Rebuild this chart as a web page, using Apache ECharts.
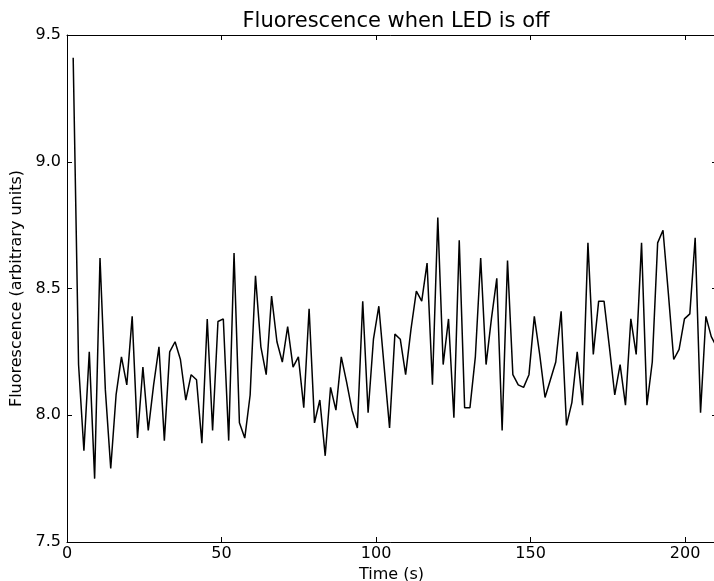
<!DOCTYPE html>
<html>
<head>
<meta charset="utf-8">
<script src="https://cdn.jsdelivr.net/npm/echarts@6/dist/echarts.min.js"></script>
<style>
html,body{margin:0;padding:0;background:#fff;}
#chart{width:714px;height:581px;}
</style>
</head>
<body>
<div id="chart"></div>
<script>
var titleText = 'Fluorescence when LED is off';
var xLabel = 'Time (s)';
var yLabel = 'Fluorescence (arbitrary units)';

var times = [2.00,3.74,5.47,7.21,8.94,10.68,12.41,14.15,15.88,17.62,19.35,21.09,22.82,24.56,26.29,28.03,29.76,31.50,33.23,34.97,
36.70,38.44,40.17,41.91,43.64,45.38,47.11,48.85,50.58,52.32,54.05,55.79,57.52,59.26,60.99,62.73,64.46,66.20,67.93,69.67,
71.40,73.14,74.87,76.61,78.34,80.08,81.81,83.55,85.28,87.02,88.75,90.49,92.22,93.96,95.69,97.43,99.16,100.90,102.63,104.37,
106.10,107.84,109.57,111.31,113.04,114.78,116.51,118.25,119.98,121.72,123.45,125.19,126.92,128.66,130.39,132.13,133.86,135.60,137.33,139.07,
140.80,142.54,144.27,146.01,147.74,149.48,151.21,152.95,154.68,156.42,158.15,159.89,161.62,163.36,165.09,166.83,168.56,170.30,172.03,173.77,
175.50,177.24,178.97,180.71,182.44,184.18,185.91,187.65,189.38,191.12,192.85,194.59,196.32,198.06,199.79,201.53,203.26,205.00,206.73,208.47,
210.20];

var fluorescence = [9.41,8.20,7.86,8.25,7.75,8.62,8.10,7.79,8.08,8.23,8.12,8.39,7.91,8.19,7.94,8.12,8.27,7.90,8.25,8.29,
8.22,8.06,8.16,8.14,7.89,8.38,7.94,8.37,8.38,7.90,8.64,7.97,7.91,8.08,8.55,8.27,8.16,8.47,8.29,8.21,
8.35,8.19,8.23,8.03,8.42,7.97,8.06,7.84,8.11,8.02,8.23,8.13,8.02,7.95,8.45,8.01,8.30,8.43,8.19,7.95,
8.32,8.30,8.16,8.34,8.49,8.45,8.60,8.12,8.78,8.20,8.38,7.99,8.69,8.03,8.03,8.23,8.62,8.20,8.38,8.54,
7.94,8.61,8.16,8.12,8.11,8.16,8.39,8.24,8.07,8.14,8.21,8.41,7.96,8.05,8.25,8.04,8.68,8.24,8.45,8.45,
8.27,8.08,8.20,8.04,8.38,8.24,8.68,8.04,8.21,8.68,8.73,8.48,8.22,8.26,8.38,8.40,8.70,8.01,8.39,8.31,
8.27];

var xTicks = {min: 0, max: 210, interval: 50};
var yTicks = {min: 7.5, max: 9.5, interval: 0.5};

var pts = times.map(function(t, i){ return [t, fluorescence[i]]; });
var font = 'DejaVu Sans';
var chart = echarts.init(document.getElementById('chart'), null, {renderer: 'canvas'});

function axisBase(extra, tickLen){
  var o = {
    type: 'value',
    axisLine: {show: true, onZero: false, lineStyle: {color: '#000', width: 1}},
    axisTick: {show: true, inside: true, length: tickLen || 5, lineStyle: {color: '#000', width: 1}},
    splitLine: {show: false},
    axisLabel: {show: false}
  };
  for (var k in extra) o[k] = extra[k];
  return o;
}

chart.setOption({
  animation: false,
  backgroundColor: '#fff',
  title: {
    text: titleText,
    left: 391,
    top: 6,
    textAlign: 'center',
    textStyle: {fontFamily: font, fontSize: 21, fontWeight: 'normal', color: '#000'}
  },
  grid: {left: 67, right: -2, top: 35, bottom: 39, containLabel: false, outerBoundsMode: 'none'},
  xAxis: [
    axisBase({
      position: 'bottom', min: xTicks.min, max: xTicks.max, interval: xTicks.interval,
      name: xLabel, nameLocation: 'middle', nameGap: 25,
      nameTextStyle: {fontFamily: font, fontSize: 16, color: '#000'},
      axisLabel: {show: true, showMaxLabel: false, margin: 4, fontFamily: font, fontSize: 16, color: '#000'}
    }),
    axisBase({position: 'top', min: xTicks.min, max: xTicks.max, interval: xTicks.interval})
  ],
  yAxis: [
    axisBase({
      position: 'left', min: yTicks.min, max: yTicks.max, interval: yTicks.interval,
      name: yLabel, nameLocation: 'middle', nameGap: 42, nameRotate: 90,
      nameTextStyle: {fontFamily: font, fontSize: 16, color: '#000'},
      axisLabel: {show: true, margin: 6, fontFamily: font, fontSize: 16, color: '#000',
        formatter: function(v){ return v.toFixed(1); }}
    }),
    axisBase({position: 'right', min: yTicks.min, max: yTicks.max, interval: yTicks.interval}, 4)
  ],
  series: [{
    type: 'line',
    xAxisIndex: 0,
    yAxisIndex: 0,
    data: pts,
    showSymbol: false,
    symbol: 'none',
    clip: true,
    lineStyle: {color: '#000', width: 1.5},
    silent: true
  }]
});
</script>
</body>
</html>
